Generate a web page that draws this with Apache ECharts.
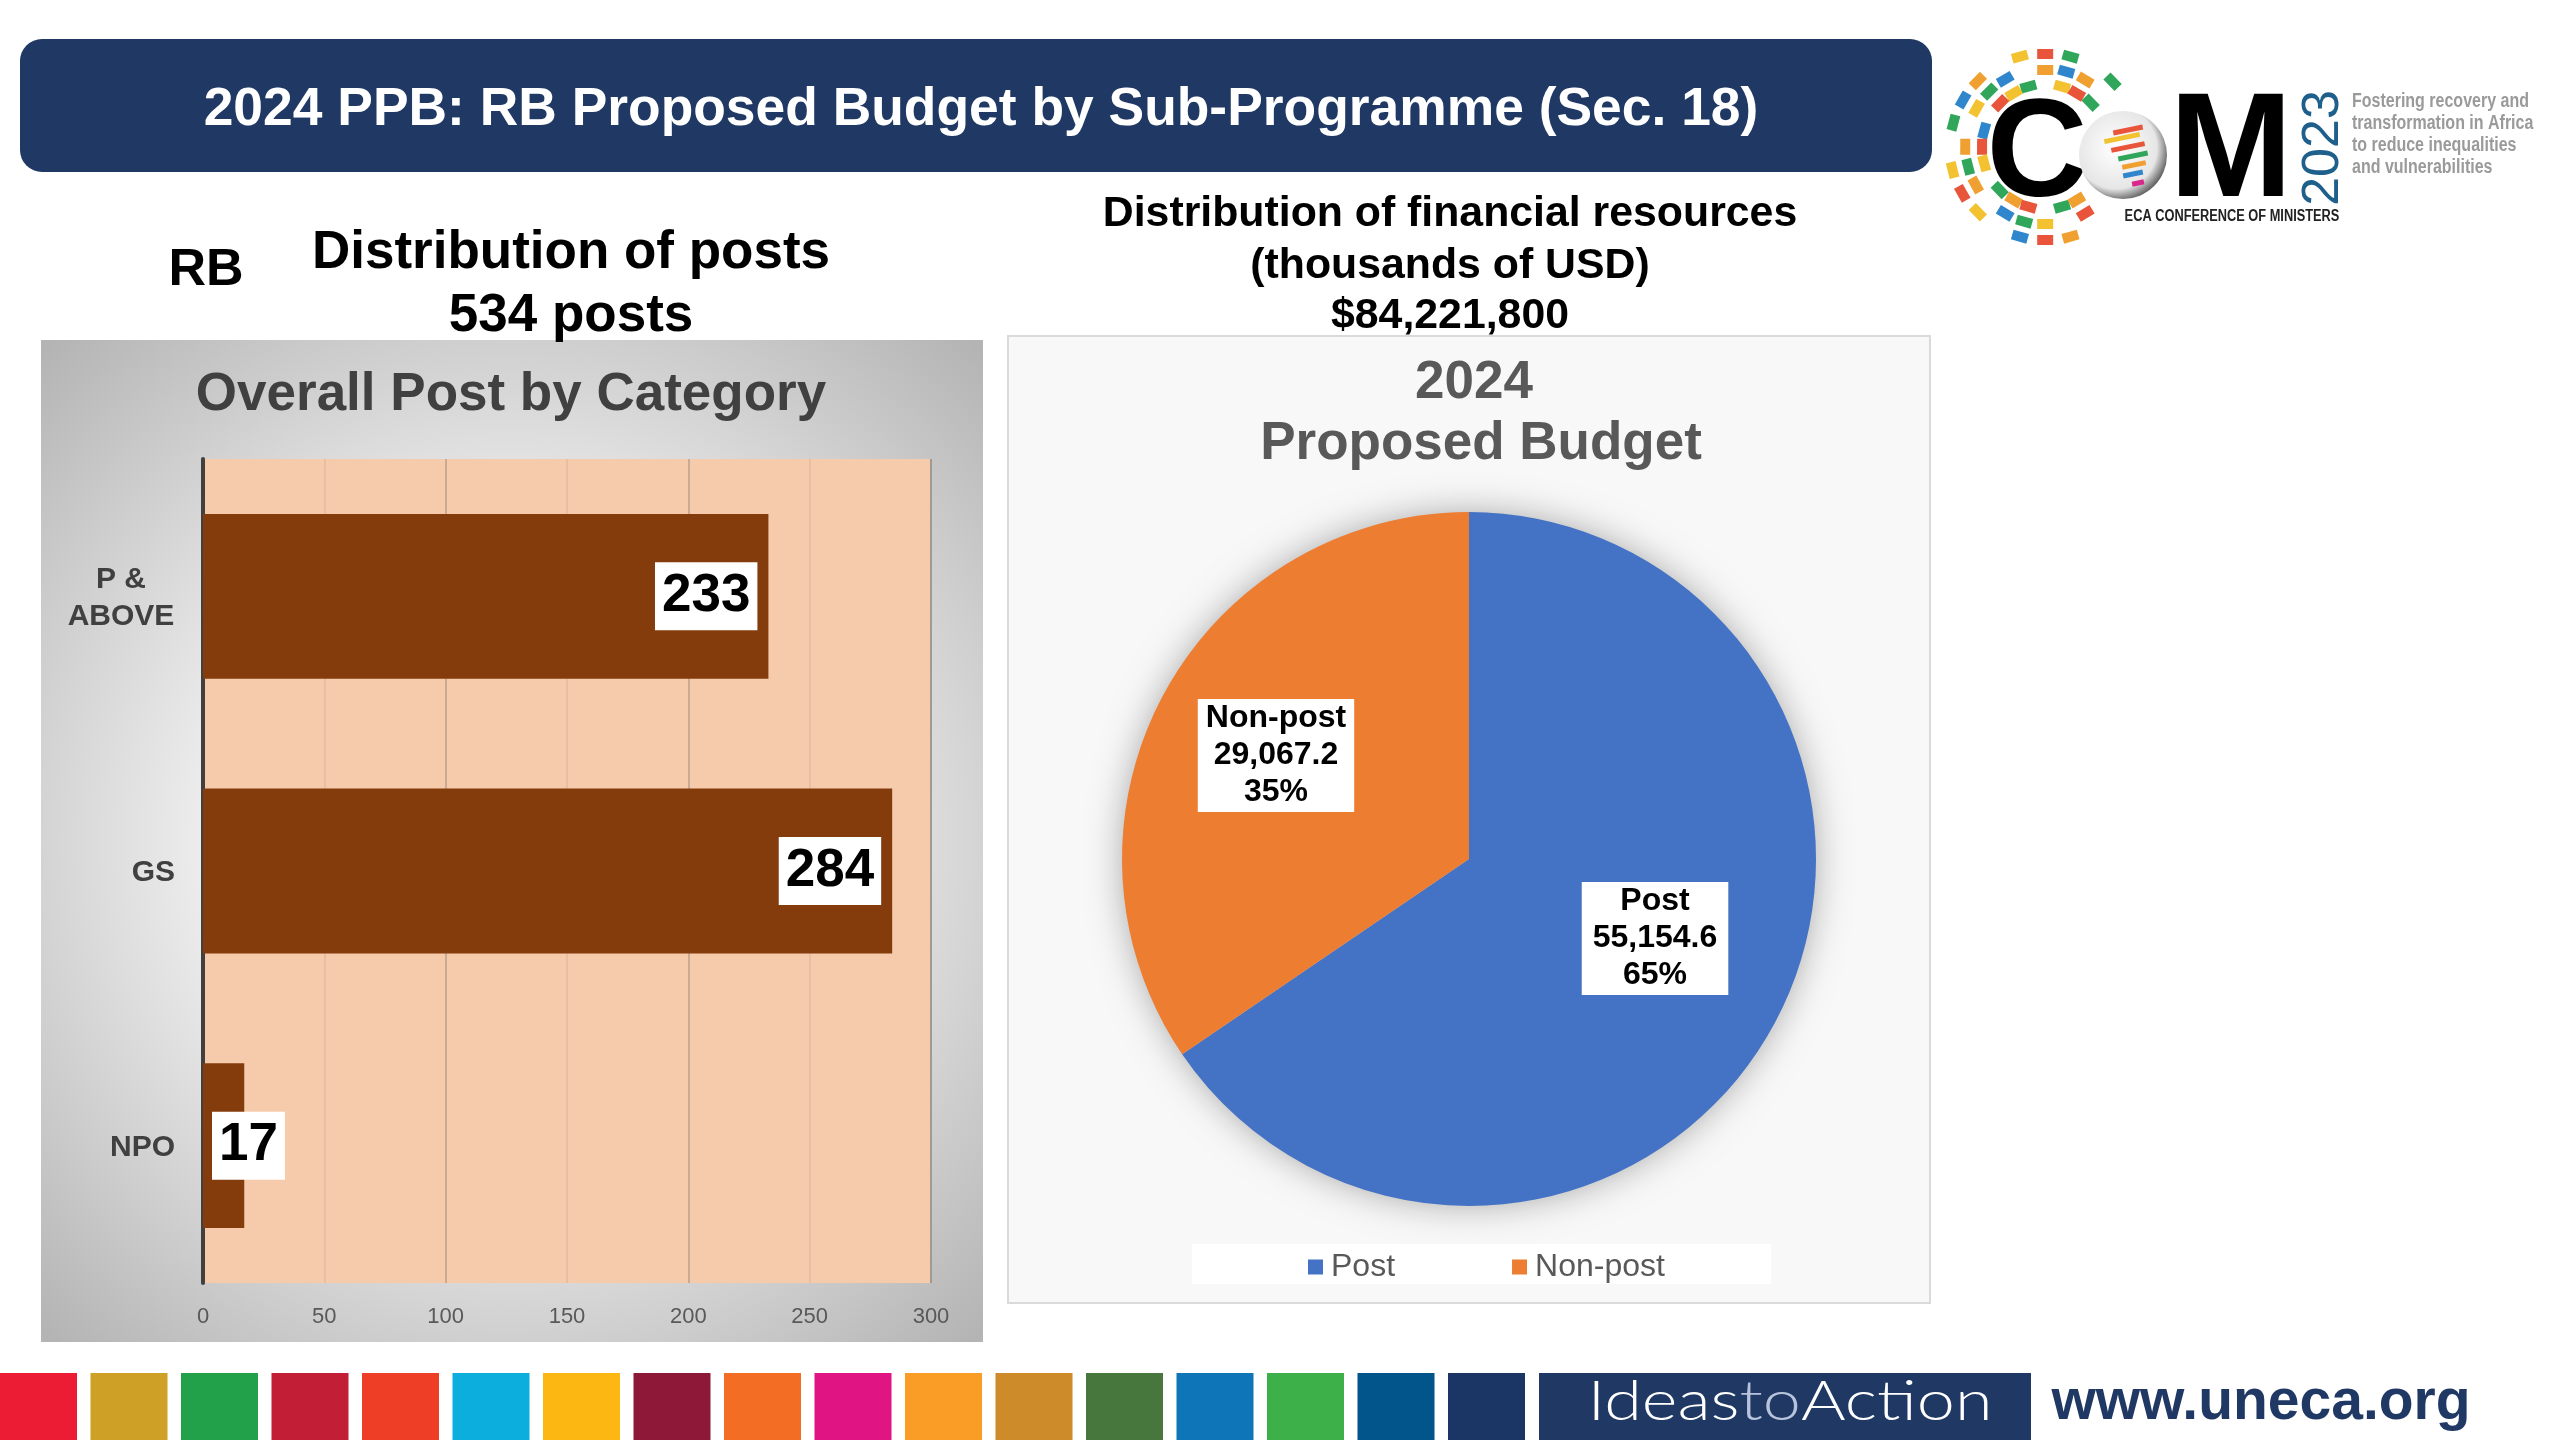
<!DOCTYPE html>
<html>
<head>
<meta charset="utf-8">
<title>2024 PPB</title>
<script src="https://cdn.jsdelivr.net/npm/echarts@6/dist/echarts.min.js"></script>
<style>
  html, body { margin: 0; padding: 0; background: #fff; }
  #chart { width: 2560px; height: 1440px; }
</style>
</head>
<body>
<div id="chart"></div>
<script>
// chart values
var postCategories = ['P &\nABOVE', 'GS', 'NPO'];
var postValues = [233, 284, 17];
var budgetNames = ['Post', 'Non-post'];
var budgetValues = [55154.6, 29067.2];
var budgetLabels = ['55,154.6', '29,067.2'];
var xTicks = [0, 50, 100, 150, 200, 250, 300];

// footer strip colours
var sdgColors = ['#EC1C34', '#CFA026', '#22A04A', '#C21F36', '#EF3E26', '#0BAEDC', '#FDB713', '#8D1838', '#F36D25',
  '#E01483', '#F99D26', '#CD8B2A', '#48773E', '#0F75B9', '#3EB049', '#02558B', '#1B3564'];

// logo dashes, [x, y, colour index] measured on the logo crop
var logoDashes = [
  [285, 110, 0], [345, 102, 1], [405, 110, 2], [505, 185, 2], [185, 183, 4], [150, 240, 3], [127, 308, 2], [125, 450, 0],
  [148, 520, 1], [185, 577, 0], [250, 580, 3], [285, 650, 3], [345, 660, 1], [405, 650, 4], [440, 580, 1],
  [345, 150, 4], [395, 155, 3], [440, 180, 4], [250, 178, 3], [212, 215, 2], [182, 265, 0], [155, 380, 4], [162, 440, 2],
  [180, 495, 4], [295, 605, 2], [345, 612, 0],
  [305, 200, 2], [270, 220, 0], [238, 250, 1], [385, 200, 0], [420, 220, 1], [453, 248, 2], [200, 332, 3], [195, 380, 1],
  [200, 430, 0], [237, 510, 2], [270, 540, 4], [305, 560, 1], [385, 560, 2], [420, 540, 4]
];
var logoColors = ['#F2C230', '#E8553A', '#2FA65A', '#2F86CC', '#F0A030'];

var sans = '"Liberation Sans", Arial, sans-serif';

function label(text, x, y, size, color) {
  return {
    type: 'text', x: x, y: y, z: 5,
    style: {
      text: text, fill: color || '#000', align: 'center', verticalAlign: 'middle',
      font: 'bold ' + size + 'px ' + sans
    }
  };
}

var graphics = [
  // header
  { type: 'rect', z: -5, shape: { x: 20, y: 39, width: 1912, height: 133, r: 22 }, style: { fill: '#1F3864' } },
  label('2024 PPB: RB Proposed Budget by Sub-Programme (Sec. 18)', 981, 110, 53.4, '#fff'),
  // headings above the panels
  label('RB', 206, 271, 52),
  label('Distribution of posts', 571, 253, 53),
  label('534 posts', 571, 316, 53),
  label('Distribution of financial resources', 1450, 214, 42.8),
  label('(thousands of USD)', 1450, 266, 42.8),
  label('$84,221,800', 1450, 316, 42.8),
  // left panel
  {
    type: 'rect', z: -5, shape: { x: 41, y: 340, width: 942, height: 1002 },
    style: {
      fill: new echarts.graphic.RadialGradient(0.5, 0.5, 0.72, [
        { offset: 0, color: '#F6F6F6' }, { offset: 0.45, color: '#EDEDED' }, { offset: 1, color: '#B4B4B4' }
      ])
    }
  },
  // right panel
  { type: 'rect', z: -5, shape: { x: 1008, y: 336, width: 922, height: 967 }, style: { fill: '#F8F8F8', stroke: '#DADADA', lineWidth: 2 } },
  // soft shadow under the pie
  { type: 'circle', z: -4, shape: { cx: 1469, cy: 859, r: 345 }, style: { fill: '#ccc', shadowBlur: 36, shadowColor: 'rgba(0,0,0,0.35)' } },
  // legend band
  { type: 'rect', z: -4, shape: { x: 1192, y: 1244, width: 579, height: 40 }, style: { fill: '#fff' } },
  // footer
  { type: 'rect', z: -5, shape: { x: 1539, y: 1373, width: 492, height: 67 }, style: { fill: '#1F3864' } },
  {
    type: 'text', x: 1790, y: 1402, z: 5, scaleX: 1.22,
    style: {
      text: '{a|Ideas}{b|to}{a|Action}', align: 'center', verticalAlign: 'middle',
      rich: {
        a: { fill: '#fff', font: '300 56px Lato, sans-serif' },
        b: { fill: '#B8C4DC', font: '300 56px Lato, sans-serif' }
      }
    }
  },
  label('www.uneca.org', 2261, 1403, 57, '#1F3864'),
  // logo
  label('C', 2037, 157, 140, '#000'),
  label('M', 2231, 155, 148, '#000'),
  {
    type: 'text', x: 2232, y: 217, z: 5, scaleX: 0.8,
    style: { text: 'ECA CONFERENCE OF MINISTERS', fill: '#222', align: 'center', verticalAlign: 'middle', font: 'bold 16px ' + sans }
  },
  {
    type: 'text', x: 2324, y: 148, rotation: Math.PI / 2, z: 5,
    style: { text: '2023', fill: '#1F5F8B', align: 'center', verticalAlign: 'middle', font: '52px ' + sans }
  },
  {
    type: 'text', x: 2352, y: 134, z: 5, scaleX: 0.8,
    style: { text: 'Fostering recovery and\ntransformation in Africa\nto reduce inequalities\nand vulnerabilities', fill: '#9A9A9A', align: 'left', verticalAlign: 'middle', lineHeight: 22, font: 'bold 20px ' + sans }
  },
  {
    type: 'circle', z: 6, shape: { cx: 2123, cy: 155, r: 44 },
    style: {
      fill: new echarts.graphic.RadialGradient(0.42, 0.42, 0.62, [
        { offset: 0, color: '#fff' }, { offset: 0.75, color: '#E6E6E6' }, { offset: 1, color: '#555' }
      ])
    }
  }
];

// footer strips
sdgColors.forEach(function (c, i) {
  graphics.push({ type: 'rect', z: -5, shape: { x: i * 90.5, y: 1373, width: 77, height: 67 }, style: { fill: c } });
});

// logo rings
logoDashes.forEach(function (d) {
  var x = 1900 + d[0] / 2.376, y = 20 + d[1] / 3;
  graphics.push({
    type: 'rect', z: 4, x: x, y: y,
    rotation: -Math.atan2(y - 147, x - 2045) - Math.PI / 2,
    shape: { x: -8, y: -5, width: 16, height: 10 },
    style: { fill: logoColors[d[2]] }
  });
});

// africa stripes on the globe
[[2128, 130, '#E8553A', 30], [2122, 138, '#F2C230', 36], [2128, 147, '#E8553A', 34], [2133, 156, '#2FA65A', 30],
  [2134, 165, '#F0A030', 24], [2133, 174, '#2F86CC', 20], [2138, 183, '#D9278A', 12]].forEach(function (s) {
  graphics.push({
    type: 'rect', z: 7, x: s[0], y: s[1], rotation: 0.2,
    shape: { x: -s[3] / 2, y: -2.5, width: s[3], height: 5 }, style: { fill: s[2] }
  });
});

var barData = postValues.map(function (v, i) {
  return {
    value: v,
    label: { position: i == 2 ? 'insideLeft' : 'insideRight', distance: i == 2 ? 9 : 11 }
  };
});

var pieOffset = [{ dx: 30, dy: -3 }, { dx: -37, dy: -21 }];

var option = {
  animation: false,
  backgroundColor: '#fff',
  textStyle: { fontFamily: sans },
  graphic: graphics,
  title: [
    {
      text: 'Overall Post by Category', left: 506, top: 390, textAlign: 'center', textVerticalAlign: 'middle',
      textStyle: { fontSize: 53, fontWeight: 'bold', color: '#404040', fontFamily: sans }
    },
    {
      text: '2024', left: 1469, top: 378, textAlign: 'center', textVerticalAlign: 'middle',
      textStyle: { fontSize: 53, fontWeight: 'bold', color: '#595959', fontFamily: sans }
    },
    {
      text: 'Proposed Budget', left: 1476, top: 439, textAlign: 'center', textVerticalAlign: 'middle',
      textStyle: { fontSize: 53, fontWeight: 'bold', color: '#595959', fontFamily: sans }
    }
  ],
  grid: {
    left: 203, top: 459, width: 728, height: 824,
    show: true, backgroundColor: '#F6CBAC', borderWidth: 0
  },
  xAxis: {
    type: 'value', min: xTicks[0], max: xTicks[xTicks.length - 1], interval: 50,
    axisLine: { show: false },
    axisTick: { show: false },
    axisLabel: { fontSize: 22, color: '#595959', margin: 23 },
    splitLine: { lineStyle: { color: ['#8F8F8F', '#E6BFA4', '#C9AA94', '#E6BFA4', '#C9AA94', '#E6BFA4', '#A09A94'], width: 2 } }
  },
  yAxis: {
    type: 'category', inverse: true, data: postCategories,
    axisLine: { lineStyle: { color: '#404040', width: 4 } },
    axisTick: { show: false },
    axisLabel: {
      fontSize: 30, fontWeight: 'bold', color: '#404040', margin: 28, align: 'right', lineHeight: 37, padding: [4, 0, 0, 0],
      formatter: function (v) {
        if (v.indexOf('\n') < 0) return v;
        return v.split('\n').map(function (l) { return '{c|' + l + '}'; }).join('\n');
      },
      rich: { c: { width: 108, align: 'center', fontSize: 30, fontWeight: 'bold', color: '#404040', lineHeight: 37 } }
    }
  },
  legend: {
    data: budgetNames, left: 1303, top: 1246, icon: 'rect', itemWidth: 15, itemHeight: 15, itemGap: 117,
    textStyle: { fontSize: 32, color: '#595959', padding: [0, 0, 0, 3] }
  },
  series: [
    {
      type: 'bar', data: barData, barCategoryGap: '40%',
      itemStyle: { color: '#843C0C' },
      label: {
        show: true, backgroundColor: '#fff', color: '#000', fontSize: 53, fontWeight: 'bold',
        padding: [11, 7, 0, 7], lineHeight: 57
      }
    },
    {
      type: 'pie', center: [1469, 859], radius: [0, 347], startAngle: 90, clockwise: true,
      percentPrecision: 0,
      data: budgetNames.map(function (n, i) {
        return { name: n, value: budgetValues[i], label: { padding: i == 0 ? [2, 11, 0, 11] : [2, 8, 0, 8] } };
      }),
      color: ['#4472C4', '#ED7D31'],
      label: {
        show: true, position: 'inside', backgroundColor: '#fff', color: '#000', fontSize: 32, fontWeight: 'bold',
        lineHeight: 37, align: 'center',
        formatter: function (p) { return p.name + '\n' + budgetLabels[p.dataIndex] + '\n' + p.percent + '%'; }
      },
      labelLine: { show: false },
      labelLayout: function (p) { return pieOffset[p.dataIndex]; }
    }
  ]
};

var chart = echarts.init(document.getElementById('chart'));
chart.setOption(option);
</script>
</body>
</html>
